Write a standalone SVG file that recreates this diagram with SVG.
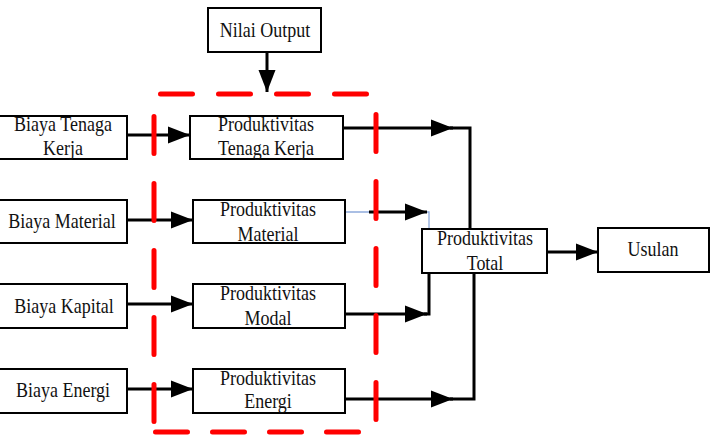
<svg xmlns="http://www.w3.org/2000/svg" width="715" height="446" viewBox="0 0 715 446">
<defs>
<marker id="ah" markerWidth="24" markerHeight="20" refX="22" refY="10" orient="auto" markerUnits="userSpaceOnUse">
<path d="M0,1.5 L22,10 L0,18.5 z" fill="#000"/>
</marker>
<style>
.box{fill:#fff;stroke:#000;stroke-width:2}
.t{font-family:"Liberation Serif","Times New Roman",serif;font-size:18px;fill:#111;text-anchor:middle}
.c{fill:none;stroke:#000;stroke-width:3}
.ca{fill:none;stroke:#000;stroke-width:3;marker-end:url(#ah)}
.blue{fill:none;stroke:#8eaadb;stroke-width:1.3}
.red{fill:none;stroke:#ff0000;stroke-width:5;stroke-linecap:round}
</style>
</defs>
<rect width="715" height="446" fill="#fff"/>
<g id="connectors">
<path class="ca" d="M267,52 V92"/>
<path class="ca" d="M127,135 H190"/>
<path class="ca" d="M127,220 H193"/>
<path class="ca" d="M127,304 H193"/>
<path class="ca" d="M127,389 H193"/>
<path class="ca" d="M343,128 H453"/>
<path class="c" d="M450,128 H470 V229"/>
<path class="blue" d="M345,212 H429 V229"/>
<path class="ca" d="M369,212 H427"/>
<path class="ca" d="M345,314 H427"/>
<path class="c" d="M424,314 H429 V273"/>
<path class="ca" d="M345,399 H453"/>
<path class="c" d="M450,399 H474 V273"/>
<path class="ca" d="M547,252 H598"/>
</g>
<g id="boundary">
<line class="red" x1="160.5" y1="94" x2="370" y2="94" stroke-dasharray="32 26"/>
<line class="red" x1="155.5" y1="432" x2="363" y2="432" stroke-dasharray="32 25"/>
<line class="red" x1="154" y1="116.5" x2="154" y2="422" stroke-dasharray="37 30"/>
<line class="red" x1="376" y1="114.5" x2="376" y2="422" stroke-dasharray="37 30"/>
</g>
<g id="nilai-output"><rect class="box" x="208" y="8" width="113" height="44"/><text class="t" transform="translate(265,37) scale(1,1.13)">Nilai Output</text></g>
<g id="biaya-tenaga-kerja"><rect class="box" x="-3" y="116" width="130" height="43"/><text class="t" transform="translate(63,131) scale(1,1.13)">Biaya Tenaga</text><text class="t" transform="translate(63,155) scale(1,1.13)">Kerja</text></g>
<g id="biaya-material"><rect class="box" x="-3" y="200" width="130" height="43"/><text class="t" transform="translate(62,228) scale(1,1.13)">Biaya Material</text></g>
<g id="biaya-kapital"><rect class="box" x="-3" y="284" width="130" height="44"/><text class="t" transform="translate(64,313) scale(1,1.13)">Biaya Kapital</text></g>
<g id="biaya-energi"><rect class="box" x="-3" y="369" width="130" height="44"/><text class="t" transform="translate(63,397) scale(1,1.13)">Biaya Energi</text></g>
<g id="prod-tenaga-kerja"><rect class="box" x="190" y="116" width="153" height="43"/><text class="t" transform="translate(266,131) scale(1,1.13)">Produktivitas</text><text class="t" transform="translate(266,155) scale(1,1.13)">Tenaga Kerja</text></g>
<g id="prod-material"><rect class="box" x="193" y="200" width="152" height="43"/><text class="t" transform="translate(268,216) scale(1,1.13)">Produktivitas</text><text class="t" transform="translate(268,241) scale(1,1.13)">Material</text></g>
<g id="prod-modal"><rect class="box" x="193" y="284" width="152" height="44"/><text class="t" transform="translate(268,300) scale(1,1.13)">Produktivitas</text><text class="t" transform="translate(268,325) scale(1,1.13)">Modal</text></g>
<g id="prod-energi"><rect class="box" x="193" y="369" width="152" height="44"/><text class="t" transform="translate(268,385) scale(1,1.13)">Produktivitas</text><text class="t" transform="translate(268,408) scale(1,1.13)">Energi</text></g>
<g id="prod-total"><rect class="box" x="422" y="229" width="125" height="44"/><text class="t" transform="translate(485,245) scale(1,1.13)">Produktivitas</text><text class="t" transform="translate(485,270) scale(1,1.13)">Total</text></g>
<g id="usulan"><rect class="box" x="598" y="228" width="111" height="44"/><text class="t" transform="translate(653,256) scale(1,1.13)">Usulan</text></g>
</svg>
